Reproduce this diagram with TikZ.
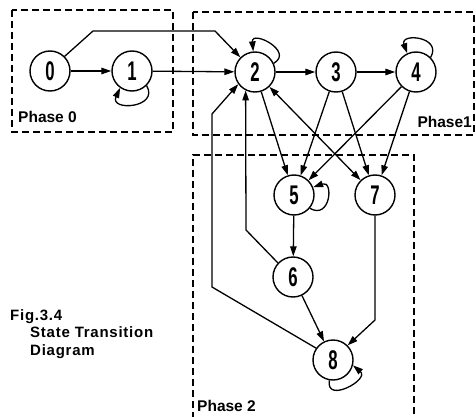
\documentclass[tikz,border=0pt]{standalone}
\usepackage{fontspec}
\usepackage{graphicx}
\setmainfont{Liberation Sans}
\usetikzlibrary{arrows.meta}
\newcommand\stlabel[1]{\scalebox{0.62}[1]{\fontsize{27}{27}\selectfont\bfseries #1}}
\tikzset{
  state/.style={circle, draw, line width=1.4pt, minimum size=40pt, inner sep=0pt},
  trans/.style={line width=1.3pt, -{Triangle[length=10pt,width=6.5pt]}},
  both/.style={line width=1.3pt, {Triangle[length=10pt,width=6.5pt]}-{Triangle[length=10pt,width=6.5pt]}},
  phasebox/.style={line width=1.2pt, dash pattern=on 7pt off 4pt},
  phaselabel/.style={font=\fontsize{15.5}{16}\selectfont\bfseries, inner sep=0pt},
  caption/.style={font=\fontsize{15}{18}\selectfont\bfseries\addfontfeature{LetterSpace=5}, inner sep=0pt}
}
\begin{document}
% y grows downwards, so polar offsets below use negated page angles
\begin{tikzpicture}[x=1pt,y=-1pt]
\useasboundingbox (0,0) rectangle (476,417);

% phase regions
\draw[phasebox] (12,10) rectangle (173,132);
\draw[phasebox] (193,12) rectangle (474,135);
\draw[phasebox] (193,419) -- (193,155) -- (414,155) -- (414,419);
\node[phaselabel, anchor=base west] (p0) at (18,123) {Phase 0};
\node[phaselabel, anchor=base east] (p1) at (472,128) {Phase1};
\node[phaselabel, anchor=base west] (p2) at (197,411) {Phase 2};

% caption
\node[caption, anchor=base west] (fig) at (10,320) {Fig.3.4};
\node[caption, anchor=base west] (ttl1) at (30,337) {State Transition};
\node[caption, anchor=base west] (ttl2) at (30,355) {Diagram};

% states
\node[state] (n0) at (50,71) {\stlabel{0}};
\node[state] (n1) at (132,71) {\stlabel{1}};
\node[state] (n2) at (255,72) {\stlabel{2}};
\node[state] (n3) at (336,72) {\stlabel{3}};
\node[state] (n4) at (416,72) {\stlabel{4}};
\node[state] (n5) at (294,195) {\stlabel{5}};
\node[state] (n7) at (375,195) {\stlabel{7}};
\node[state] (n6) at (293,277) {\stlabel{6}};
\node[state] (n8) at (333,360) {\stlabel{8}};

% bend points of routed connectors
\coordinate (a1) at (93,31);
\coordinate (a2) at (215,31);
\coordinate (b1) at (246,230);
\coordinate (c1) at (212,287);
\coordinate (c2) at (212,114);
\coordinate (d1) at (375,320);

% transitions
\draw[trans] (n0) -- (n1);
\draw[trans] (n1) -- (n2);
\draw[trans] (n0.45) -- (a1) -- (a2) -- (n2.135);
\draw[trans] (n2) -- (n3);
\draw[trans] (n3) -- (n4);
\draw[trans] (n2) -- (n5);
\draw[both] (n2) -- (n7);
\draw[trans] (n3) -- (n5);
\draw[trans] (n3) -- (n7);
\draw[trans] (n4) -- (n5);
\draw[trans] (n4) -- (n7);
\draw[trans] (n5) -- (n6);
\draw[trans] (n6) -- (n8);
\draw[trans] (n6.137) -- (b1) -- (n2.243);
\draw[trans] (n8.145) -- (c1) -- (c2) -- (n2.216);
\draw[trans] (n7) -- (d1) -- (n8.45);

% self loops
\draw[trans] (n1.-45) .. controls +(60:26) and +(115:26) .. (n1.-125);
\draw[trans] (n2.25) .. controls +(-30:24) and +(-95:22) .. (n2.95);
\draw[trans] (n4.45) .. controls +(-60:24) and +(-110:22) .. (n4.115);
\draw[trans] (n5.-40) .. controls +(30:24) and +(-20:22) .. (n5.22);
\draw[trans] (n8.-100) .. controls +(100:24) and +(40:22) .. (n8.-15);
\end{tikzpicture}
\end{document}
